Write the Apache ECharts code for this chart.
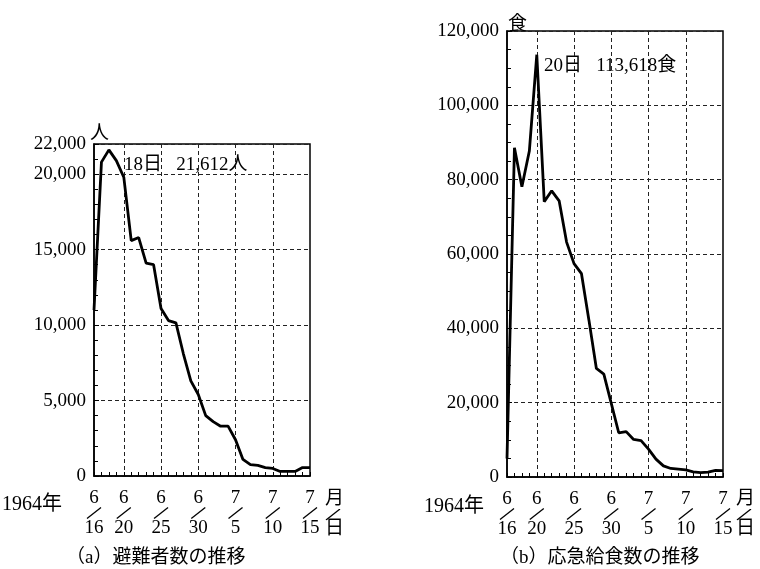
<!DOCTYPE html>
<html>
<head>
<meta charset="utf-8">
<script src="https://cdn.jsdelivr.net/npm/echarts@6/dist/echarts.min.js"></script>
<style>
html, body { margin: 0; background: #fff; }
#chart { width: 760px; height: 569px; }
</style>
</head>
<body>
<div id="chart"></div>
<script>
// 1964 Niigata earthquake: daily counts from 6/16 to 7/15
var days = ['6/16', '6/17', '6/18', '6/19', '6/20', '6/21', '6/22', '6/23', '6/24', '6/25',
    '6/26', '6/27', '6/28', '6/29', '6/30', '7/1', '7/2', '7/3', '7/4', '7/5',
    '7/6', '7/7', '7/8', '7/9', '7/10', '7/11', '7/12', '7/13', '7/14', '7/15'];
var evacuees = [11000, 20800, 21612, 20900, 19800, 15600, 15800, 14100, 14000, 11100,
    10300, 10150, 8100, 6300, 5400, 4000, 3600, 3300, 3300, 2400,
    1100, 750, 700, 560, 500, 300, 300, 300, 560, 560];
var meals = [5000, 88600, 78100, 87700, 113618, 74100, 77000, 74300, 63200, 57400,
    54700, 42200, 29200, 27700, 19800, 11900, 12200, 10100, 9800, 7500,
    4800, 3000, 2300, 2100, 1900, 1400, 1200, 1300, 1800, 1700];
var dateTicks = ['6/16', '6/20', '6/25', '6/30', '7/5', '7/10', '7/15'];

var SERIF = '"Liberation Serif", "Noto Sans CJK JP", serif';
var slashImg = 'data:image/svg+xml;charset=utf-8,' + encodeURIComponent(
    "<svg xmlns='http://www.w3.org/2000/svg' width='16' height='12'>" +
    "<line x1='1' y1='11.5' x2='15' y2='0.5' stroke='#000' stroke-width='1.3'/></svg>");

var fracRich = {
    m: { fontSize: 19, lineHeight: 18, fontFamily: SERIF, color: '#000' },
    s: { width: 16, height: 12, backgroundColor: { image: slashImg } },
    d: { fontSize: 19, lineHeight: 18, fontFamily: SERIF, color: '#000' }
};

function isTick(value) {
    return dateTicks.indexOf(value) >= 0;
}

function xAxisFor(gridIndex) {
    return {
        type: 'category',
        gridIndex: gridIndex,
        data: days,
        boundaryGap: false,
        axisLine: { lineStyle: { color: '#000', width: 1.5 } },
        axisTick: { interval: 0, inside: true, length: 4, lineStyle: { color: '#000' } },
        axisLabel: {
            interval: function (idx, value) { return isTick(value); },
            margin: 13,
            formatter: function (value) {
                var p = value.split('/');
                return '{m|' + p[0] + '}\n{s| }\n{d|' + p[1] + '}';
            },
            rich: fracRich
        },
        splitLine: {
            show: true,
            interval: function (idx, value) { return idx > 0 && idx < days.length - 1 && isTick(value); },
            lineStyle: { color: '#222', type: [4, 3], width: 1 }
        }
    };
}

function yAxisFor(gridIndex, max, interval, minorSplit) {
    return {
        type: 'value',
        gridIndex: gridIndex,
        min: 0,
        max: max,
        interval: interval,
        axisLine: { show: true, lineStyle: { color: '#000', width: 1.5 } },
        axisTick: { show: true, inside: true, length: 5, lineStyle: { color: '#000' } },
        minorTick: { show: true, splitNumber: minorSplit, length: 4, lineStyle: { color: '#000' } },
        axisLabel: {
            margin: 8,
            fontSize: 19,
            fontFamily: SERIF,
            color: '#000',
            formatter: function (v) { return v.toLocaleString('en-US'); }
        },
        splitLine: { show: true, lineStyle: { color: '#222', type: [4, 3], width: 1 } }
    };
}

function label(text, x, y, align, size) {
    return {
        type: 'text', left: x, top: y,
        style: {
            text: text, fill: '#000', align: align || 'left', verticalAlign: 'middle',
            font: (size || 19) + 'px ' + SERIF
        }
    };
}

function monthDay(x) {
    return {
        type: 'text', left: x, top: 490,
        style: { text: '{m|月}\n{s| }\n{d|日}', rich: fracRich, fill: '#000' }
    };
}

var myChart = echarts.init(document.getElementById('chart'));
var option = {
    backgroundColor: '#fff',
    animation: false,
    grid: [
        { left: 94, top: 144, width: 216, height: 332, show: true, borderColor: '#000', borderWidth: 1.5 },
        { left: 507, top: 31, width: 216, height: 446, show: true, borderColor: '#000', borderWidth: 1.5 }
    ],
    xAxis: [xAxisFor(0), xAxisFor(1)],
    yAxis: [yAxisFor(0, 22000, 5000, 5), yAxisFor(1, 120000, 20000, 4)],
    series: [
        {
            name: '避難者数', type: 'line', xAxisIndex: 0, yAxisIndex: 0,
            data: evacuees, showSymbol: false,
            lineStyle: { color: '#000', width: 2.8 }
        },
        {
            name: '応急給食数', type: 'line', xAxisIndex: 1, yAxisIndex: 1,
            data: meals, showSymbol: false,
            lineStyle: { color: '#000', width: 2.8 }
        }
    ],
    graphic: [
        label('人', 90, 125, 'left', 19),
        label('食', 508, 16, 'left', 19),
        label('18日   21,612人', 124, 156, 'left', 19),
        label('20日   113,618食', 544, 57, 'left', 19),
        label('1964年', 2, 495, 'left', 20),
        label('1964年', 424, 497, 'left', 20),
        monthDay(325),
        monthDay(736),
        label('（a）避難者数の推移', 66, 549, 'left', 19),
        label('（b）応急給食数の推移', 500, 549, 'left', 19)
    ]
};
myChart.setOption(option);
</script>
</body>
</html>
